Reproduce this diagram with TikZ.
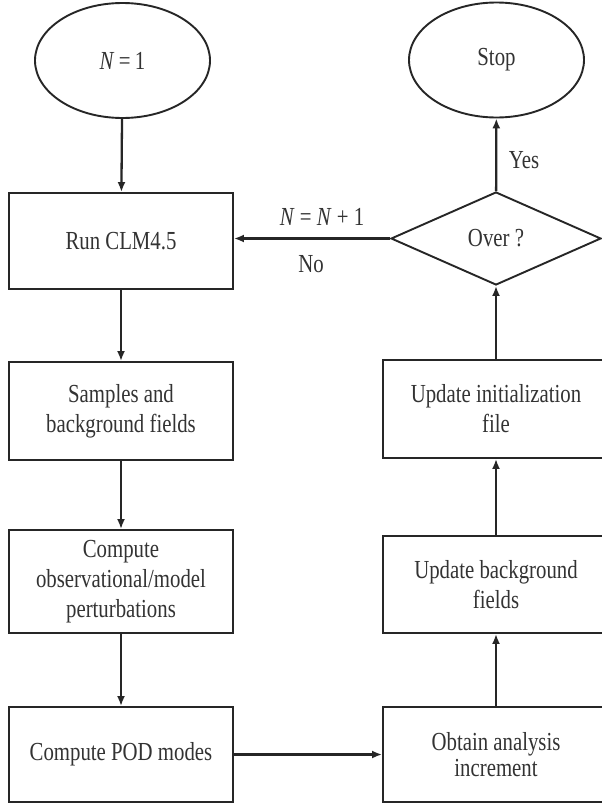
\documentclass[tikz,border=0pt]{standalone}
\usepackage{fontspec}
\setmainfont{Liberation Serif}[FakeStretch=0.8]
\usetikzlibrary{shapes.geometric,arrows.meta}
\begin{document}
\begin{tikzpicture}[x=1pt,y=-1pt,
  every node/.style={font=\fontsize{26}{30}\selectfont, text=black!80},
  box/.style={draw=black!85, line width=1.9pt, rectangle, minimum width=224pt, align=center, inner sep=0pt},
  rbox/.style={box, minimum width=226pt},
  oval/.style={draw=black!85, line width=1.9pt, ellipse, inner sep=0pt, minimum width=175pt, minimum height=115pt},
  dia/.style={draw=black!85, line width=1.9pt, diamond, inner sep=0pt, minimum width=210pt, minimum height=93pt},
  arr/.style={draw=black!85, line width=2.3pt, -{Latex[length=10pt,width=8pt]}}
]
\useasboundingbox (0,0) rectangle (602,806);
\clip (0,0) rectangle (602,806);
\fill[white] (0,0) rectangle (602,806);

\node[oval] (start) at (122.5,60.5) {\textit{N}\,=\,1};
\node[oval] (stop) at (496.5,60) {Stop};

\node[box, minimum height=96pt] (run) at (121,241) {Run CLM4.5};
\node[box, minimum height=98pt] (samp) at (121,411) {Samples and\\background fields};
\node[box, minimum height=103pt] (comp) at (121,581.5) {Compute\\observational/model\\perturbations};
\node[box, minimum height=95pt] (pod) at (121,754.5) {Compute POD modes};

\node[rbox, minimum height=95pt, font=\fontsize{26}{26}\selectfont] (obt) at (496,754.5) {Obtain analysis\\increment};
\node[rbox, minimum height=97pt] (updbg) at (496,584.5) {Update background\\fields};
\node[rbox, minimum height=98pt] (updinit) at (496,409) {Update initialization\\file};
\node[dia] (over) at (496,238.5) {Over ?};

\node (yes) at (524,160) {Yes};
\node (inc) at (322,217) {\textit{N} = \textit{N} + 1};
\node (no) at (311,264) {No};

\draw[arr] (start) -- (run);
\draw[arr] (run) -- (samp);
\draw[arr] (samp) -- (comp);
\draw[arr] (comp) -- (pod);
\draw[arr] (pod) -- (obt);
\draw[arr] (obt) -- (updbg);
\draw[arr] (updbg) -- (updinit);
\draw[arr] (updinit) -- (over);
\draw[arr] (over) -- (stop);
\draw[arr] (over.west) -- (run.east |- over.west);
\end{tikzpicture}
\end{document}
